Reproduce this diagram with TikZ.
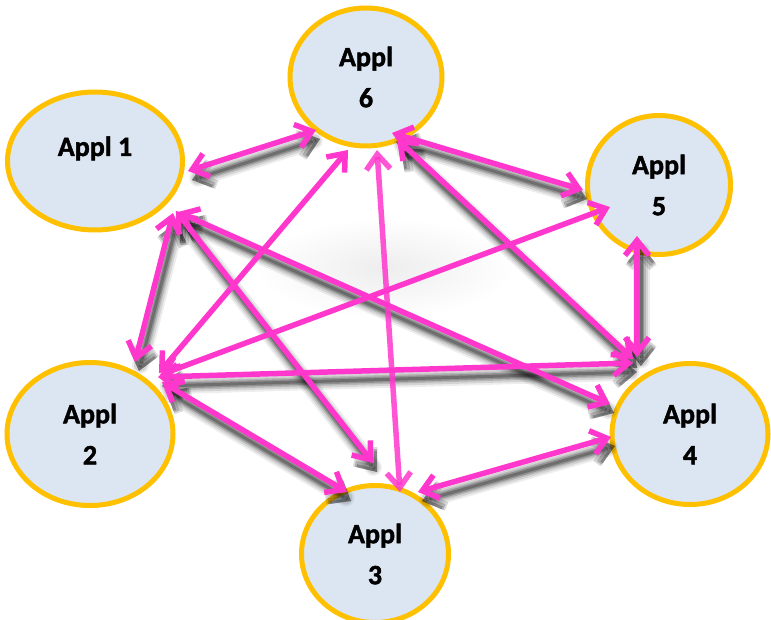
\documentclass[tikz,border=0pt]{standalone}
\usepackage{fontspec}
\setmainfont{Carlito}[BoldFont={Carlito Bold}, BoldFeatures={FakeBold=1.6}]
\usetikzlibrary{arrows.meta,calc,shapes.geometric}
\definecolor{lnk}{RGB}{255,55,205}
\definecolor{ringc}{RGB}{255,192,0}
\definecolor{fillc}{RGB}{220,230,242}
\begin{document}
\begin{tikzpicture}[x=1pt,y=-1pt,
  app/.style={ellipse, draw=ringc, line width=5pt, fill=fillc, inner sep=0pt,
    font=\fontsize{28}{41}\selectfont\bfseries, align=center},
  tipx/.tip={Straight Barb[length=15pt,width=24pt]},
  lnkline/.style={draw=lnk, line width=5.5pt, tipx-tipx},
  shadline/.style={draw=black, line width=#1, tipx-tipx},
  shadwide/.style={draw=black, line width=#1, line cap=round},
]
\useasboundingbox (0,0) rectangle (771,620);
\fill[white] (0,0) rectangle (771,620);
\shade[inner color=black!7, outer color=white] (385,268) ellipse [x radius=130pt, y radius=50pt];

% nodes
\node[app, minimum width=175pt, minimum height=138pt, text height=20pt, text depth=30pt] (a1) at (95,161) {Appl 1};
\node[app, minimum width=152pt, minimum height=138pt] (a6) at (366,77) {Appl\\6};
\node[app, minimum width=143pt, minimum height=139pt] (a5) at (659,185) {Appl\\5};
\node[app, minimum width=156pt, minimum height=141pt] (a4) at (690,434) {Appl\\4};
\node[app, minimum width=166pt, minimum height=143pt] (a2) at (90,434) {Appl\\2};
\node[app, minimum width=147pt, minimum height=137pt] (a3) at (375,554) {Appl\\3};

% shadows
\begin{scope}[transform canvas={shift={(4pt,-9pt)}}]
\foreach \p/\px/\py/\q/\qx/\qy in {
  a1/93/10/a6/-50/53,
  a6/26/56/a5/-76/5,
  a6/31/62/a4/-57/-75,
  a5/-22/51/a4/-53/-77,
  a2/68/-57/a4/-57/-71,
  a1/78/52/a2/45/-72,
  a1/81/50/a3/-2/-91,
  a1/83/51/a4/-80/-30,
  a2/72/-52/a3/-28/-62,
  a3/43/-62/a4/-79/3}{
  \foreach \w/\o in {17/0.07, 13/0.1}{
    \draw[shadwide=\w pt, draw opacity=\o, shorten <=6pt, shorten >=6pt] ($(\p)+(\px,\py)$) -- ($(\q)+(\qx,\qy)$);
  }
  \foreach \w/\o in {9/0.14, 6/0.2, 3/0.24}{
    \draw[shadline=\w pt, draw opacity=\o] ($(\p)+(\px,\py)$) -- ($(\q)+(\qx,\qy)$);
  }
}
\end{scope}

% connectors
\foreach \p/\px/\py/\q/\qx/\qy in {
  a1/93/10/a6/-50/53,
  a6/26/56/a5/-76/5,
  a6/31/62/a4/-57/-75,
  a5/-22/51/a4/-53/-77,
  a2/68/-57/a4/-57/-71,
  a1/78/52/a2/45/-72,
  a1/81/50/a3/-2/-91,
  a1/83/51/a4/-80/-30,
  a2/72/-52/a3/-28/-62,
  a3/43/-62/a4/-79/3,
  a2/70/-59/a5/-49/22,
  a2/69/-61/a6/-18/73}{
  \draw[lnkline] ($(\p)+(\px,\py)$) -- ($(\q)+(\qx,\qy)$);
}
\draw[lnkline, draw opacity=0.85] ($(a6)+(11,73)$) -- ($(a3)+(25,-62)$);
\end{tikzpicture}
\end{document}
